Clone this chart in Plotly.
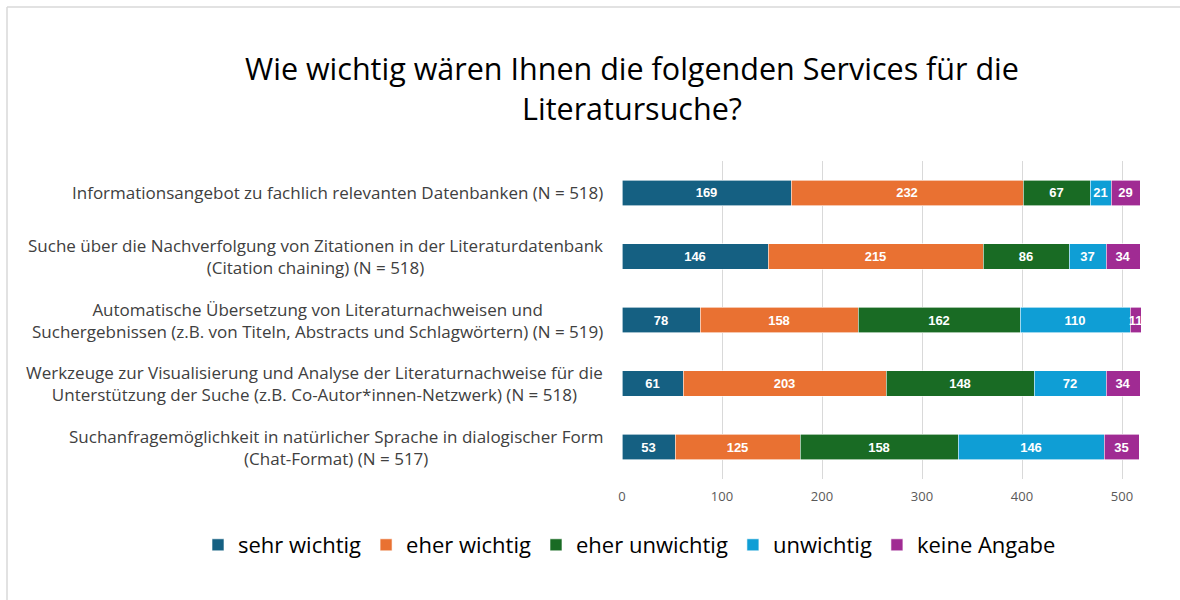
import plotly.graph_objects as go

categories = [
    "Informationsangebot zu fachlich relevanten Datenbanken (N = 518)",
    "Suche über die Nachverfolgung von Zitationen in der Literaturdatenbank<br>(Citation chaining) (N = 518)",
    "Automatische Übersetzung von Literaturnachweisen und<br>Suchergebnissen (z.B. von Titeln, Abstracts und Schlagwörtern) (N = 519)",
    "Werkzeuge zur Visualisierung und Analyse der Literaturnachweise für die<br>Unterstützung der Suche (z.B. Co-Autor*innen-Netzwerk) (N = 518)",
    "Suchanfragemöglichkeit in natürlicher Sprache in dialogischer Form<br>(Chat-Format) (N = 517)",
]
sehr_wichtig = [169, 146, 78, 61, 53]
eher_wichtig = [232, 215, 158, 203, 125]
eher_unwichtig = [67, 86, 162, 148, 158]
unwichtig = [21, 37, 110, 72, 146]
keine_angabe = [29, 34, 11, 34, 35]

series_names = ["sehr wichtig", "eher wichtig", "eher unwichtig", "unwichtig", "keine Angabe"]
series_values = [sehr_wichtig, eher_wichtig, eher_unwichtig, unwichtig, keine_angabe]
colors = ["#156082", "#E97132", "#196B24", "#0F9ED5", "#A02B93"]
x_ticks = [0, 100, 200, 300, 400, 500]
title_text = "Wie wichtig wären Ihnen die folgenden Services für die<br>Literatursuche?"

FONT = "Open Sans, Liberation Sans, Arial, sans-serif"
LABEL_FONT = "Liberation Sans, Arial, sans-serif"

fig = go.Figure()
for name, vals, col in zip(series_names, series_values, colors):
    fig.add_trace(go.Bar(
        y=categories, x=vals, name=name, orientation="h",
        marker=dict(color=col, line=dict(color="white", width=0.6)),
        text=[str(v) for v in vals], textposition="inside",
        insidetextanchor="middle", textangle=0,
        textfont=dict(color="white", size=13, family=LABEL_FONT, weight="bold"),
        width=0.4,
    ))

annotations = []
for c in categories:
    annotations.append(dict(
        x=0, xref="paper", y=c, yref="y", xanchor="right", yanchor="middle",
        xshift=-17, text=c, showarrow=False, align="center",
        font=dict(size=17, color="#404040", family=FONT),
    ))

W, H = 1180, 600
L, R, T, B = 622, 1152, 161, 479
pw, ph = R - L, B - T
def px_x(p):
    return (p - L) / pw
def px_y(p):
    return (B - p) / ph

shapes = [
    dict(type="line", xref="paper", yref="paper", x0=px_x(7), x1=px_x(1180),
         y0=px_y(7), y1=px_y(7), line=dict(color="#D9D9D9", width=1.5)),
    dict(type="line", xref="paper", yref="paper", x0=px_x(7), x1=px_x(7),
         y0=px_y(7), y1=px_y(600), line=dict(color="#D9D9D9", width=1.5)),
]

fig.update_layout(
    barmode="stack",
    width=W, height=H,
    margin=dict(l=L, r=W - R, t=T, b=H - B, autoexpand=False),
    paper_bgcolor="white", plot_bgcolor="white",
    title=dict(text=title_text, x=632 / W, xanchor="center", y=1 - 80 / H, yanchor="middle",
               font=dict(size=30.5, color="#000000", family=FONT)),
    xaxis=dict(range=[0, 530], tickvals=x_ticks, showgrid=True, gridcolor="#D9D9D9",
               gridwidth=1, zeroline=False, showline=False,
               tickfont=dict(size=13, color="#595959", family=FONT), ticks="",
               ticklabelstandoff=8),
    yaxis=dict(autorange="reversed", showticklabels=False, showgrid=False, ticks=""),
    showlegend=True,
    legend=dict(orientation="h", x=px_x(198), xanchor="left", xref="paper",
                y=px_y(545), yref="paper", yanchor="middle",
                traceorder="normal",
                font=dict(size=22, color="#000000", family=FONT),
                itemwidth=30),
    uniformtext=dict(minsize=13, mode="show"),
    annotations=annotations,
    shapes=shapes,
    bargap=0.6,
)

fig.write_html("out.html", config={"displayModeBar": False},
               post_script="document.body.style.margin='0';document.body.style.overflow='hidden';")
